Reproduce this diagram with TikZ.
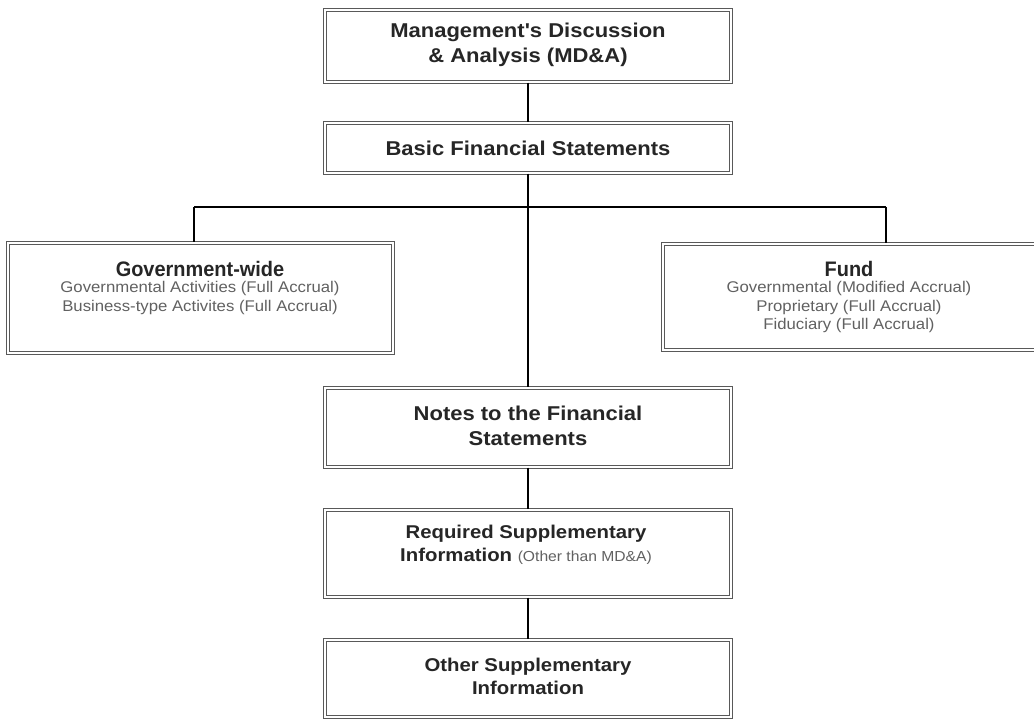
\documentclass[tikz,border=0pt]{standalone}
\usepackage{fontspec}
\setmainfont{Liberation Sans}
\newfontfamily\wideb[FakeStretch=1.1]{Liberation Sans}
\newfontfamily\narrowb[FakeStretch=0.95]{Liberation Sans}
\newfontfamily\subf[FakeStretch=1.08]{Liberation Sans}
\begin{document}
\begin{tikzpicture}[x=1pt,y=-1pt,
  box/.style={draw=black!65, line width=1.2pt, double=white, double distance=1.1pt, fill=white, inner sep=0pt},
  ttl/.style={font=\wideb\bfseries\fontsize{20}{25}\selectfont, text=black!85, align=center},
  ttlb/.style={font=\wideb\bfseries\fontsize{18.5}{23}\selectfont, text=black!85, align=center},
  hdr/.style={font=\narrowb\bfseries\fontsize{21}{23}\selectfont, text=black!85, align=center},
  sub/.style={font=\subf\fontsize{15.5}{18.5}\selectfont, text=black!62, align=center},
  conn/.style={line width=1.7pt, black}]
\useasboundingbox (0,0) rectangle (1034,719);
% boxes
\node[box, minimum width=406pt, minimum height=72pt] (mda) at (528,46) {};
\node[box, minimum width=406pt, minimum height=50pt] (bfs) at (528,148) {};
\node[box, minimum width=385pt, minimum height=110pt] (gw) at (200.5,298) {};
\node[box, minimum width=377pt, minimum height=106pt] (fund) at (851.5,297) {};
\node[box, minimum width=406pt, minimum height=79pt] (notes) at (528,427.5) {};
\node[box, minimum width=406pt, minimum height=87pt] (rsi) at (528,553.5) {};
\node[box, minimum width=406pt, minimum height=77pt] (osi) at (528,678.5) {};
% texts
\node[ttl] (mdat) at (528,45) {Management's Discussion\\ \& Analysis (MD\&A)};
\node[ttl] (bfst) at (528,148) {Basic Financial Statements};
\node[hdr, anchor=north] (gwt) at (200,258) {Government-wide};
\node[sub, anchor=north, inner sep=0pt] (gws) at ([yshift=-1pt]gwt.south) {Governmental Activities (Full Accrual)\\Business-type Activites (Full Accrual)};
\node[hdr, anchor=north] (fundt) at (849,258) {Fund};
\node[sub, anchor=north, inner sep=0pt] (funds) at ([yshift=-1pt]fundt.south) {Governmental (Modified Accrual)\\Proprietary (Full Accrual)\\Fiduciary (Full Accrual)};
\node[ttl] (notest) at (528,426) {Notes to the Financial\\Statements};
\node[ttlb] (rsit) at (526,545) {Required Supplementary\\Information {\subf\mdseries\fontsize{14.5}{17}\selectfont\color{black!62} (Other than MD\&A)}};
\node[ttlb] (osit) at (528,676) {Other Supplementary\\Information};
% connectors
\coordinate (hl) at (194,207);
\coordinate (hr) at (886,207);
\draw[conn] (mda.south) -- (bfs.north);
\draw[conn] (bfs.south) -- (notes.north);
\draw[conn] (hl) -- (hr);
\draw[conn] (hl) -- (gw.north -| hl);
\draw[conn] (hr) -- (fund.north -| hr);
\draw[conn] (notes.south) -- (rsi.north);
\draw[conn] (rsi.south) -- (osi.north);
\end{tikzpicture}
\end{document}
